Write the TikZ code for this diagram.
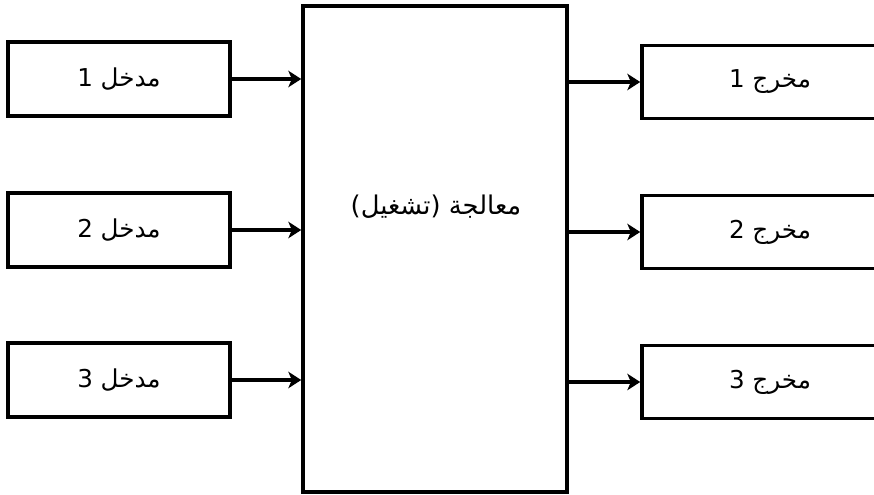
\documentclass[tikz,border=0pt]{standalone}
\usepackage{fontspec}
\newfontfamily\arabicfont[Script=Arabic]{DejaVu Sans}
\TeXXeTstate=1
\usetikzlibrary{arrows.meta}

\begin{document}
\begin{tikzpicture}[x=0.03cm,y=-0.03cm,
	blk/.style={draw,line width=3pt,inner sep=0pt},
	inbox/.style={blk,minimum width=6.66cm,minimum height=2.22cm},
	outbox/.style={blk,minimum width=7.68cm,minimum height=2.19cm},
	lbl/.style={font=\fontsize{21}{25}\selectfont\arabicfont},
	arr/.style={line width=3pt,-{Stealth[length=11pt,width=14pt,inset=3pt]}}]

	\useasboundingbox (0,0) rectangle (874,494);
	\clip (0,0) rectangle (874,494);

	% centre block
	\node[blk,minimum width=7.92cm,minimum height=14.58cm] (proc) at (435,249) {};
	\node[lbl,font=\fontsize{22}{26}\selectfont\arabicfont] (proctxt) at (436,207) {\beginR معالجة (تشغيل)\endR};

	% inputs
	\node[inbox,lbl] (in1) at (119,79) {\beginR مدخل 1\endR};
	\node[inbox,lbl] (in2) at (119,230) {\beginR مدخل 2\endR};
	\node[inbox,lbl] (in3) at (119,380) {\beginR مدخل 3\endR};

	% outputs
	\node[outbox,lbl] (out1) at (770,82) {\beginR مخرج 1\endR};
	\node[outbox,lbl] (out2) at (770,232) {\beginR مخرج 2\endR};
	\node[outbox,lbl] (out3) at (770,382) {\beginR مخرج 3\endR};

	\draw[arr] (in1.east) -- (in1.east -| proc.west);
	\draw[arr] (in2.east) -- (in2.east -| proc.west);
	\draw[arr] (in3.east) -- (in3.east -| proc.west);
	\draw[arr] (proc.east |- out1.west) -- (out1.west);
	\draw[arr] (proc.east |- out2.west) -- (out2.west);
	\draw[arr] (proc.east |- out3.west) -- (out3.west);

\end{tikzpicture}
\end{document}
